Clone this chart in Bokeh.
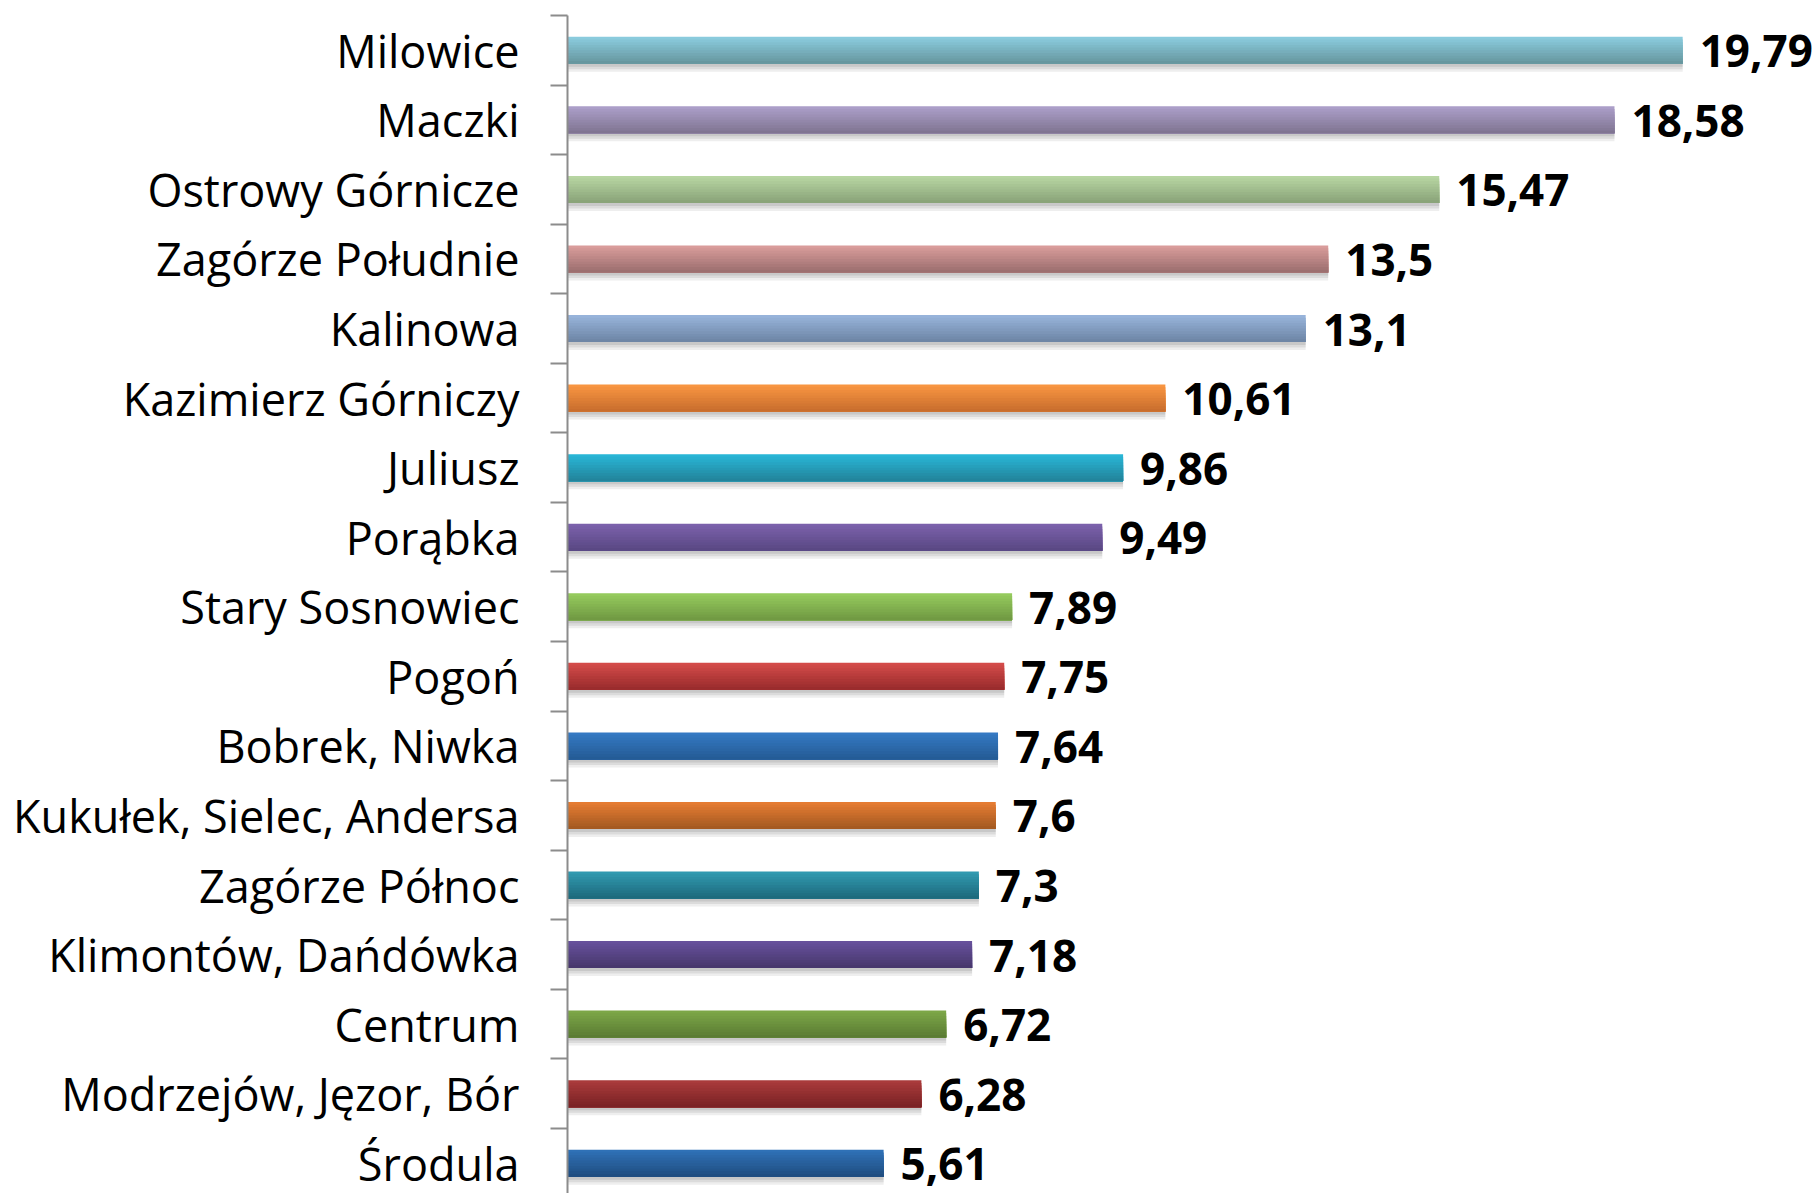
import numpy as np
from bokeh.plotting import figure
from bokeh.models import ColumnDataSource, Range1d, FixedTicker
from bokeh.transform import dodge
from bokeh.core.properties import value
from bokeh.embed import file_html
from bokeh.resources import INLINE

districts = ["Milowice", "Maczki", "Ostrowy Górnicze", "Zagórze Południe", "Kalinowa",
             "Kazimierz Górniczy", "Juliusz", "Porąbka", "Stary Sosnowiec", "Pogoń",
             "Bobrek, Niwka", "Kukułek, Sielec, Andersa", "Zagórze Północ",
             "Klimontów, Dańdówka", "Centrum", "Modrzejów, Jęzor, Bór", "Środula"]
values = [19.79, 18.58, 15.47, 13.5, 13.1, 10.61, 9.86, 9.49, 7.89, 7.75, 7.64,
          7.6, 7.3, 7.18, 6.72, 6.28, 5.61]
value_labels = ["19,79", "18,58", "15,47", "13,5", "13,1", "10,61", "9,86", "9,49",
                "7,89", "7,75", "7,64", "7,6", "7,3", "7,18", "6,72", "6,28", "5,61"]
top_colors = ["#8ACBDD", "#AB9EC8", "#B7D5A2", "#D99C9B", "#97B3DA", "#F89541",
              "#29B6D6", "#7B61AB", "#95CA5D", "#D34B49", "#3579C3", "#E57C33",
              "#3099B0", "#67519B", "#7CA647", "#A93B3B", "#2F71B6"]
bottom_colors = ["#67979F", "#807592", "#8AA479", "#9C6F6F", "#6E86A6", "#C96E2E",
                 "#22849C", "#5A4884", "#719A43", "#9A2C2D", "#245C96", "#A55A21",
                 "#1E6B7D", "#47376D", "#5B7C34", "#7B2225", "#204E81"]

n = len(districts)
ypos = list(range(n))

def hex2rgb(h):
    h = h.lstrip("#")
    return np.array([int(h[i:i + 2], 16) for i in (0, 2, 4)], dtype=float)

def rgb2hex(c):
    return "#%02x%02x%02x" % tuple(int(round(v)) for v in c)

NSTRIP = 10
data = dict(y=ypos, v=values, lbl=value_labels, name=districts)
for k in range(NSTRIP):
    t = k / (NSTRIP - 1)
    data["c%d" % k] = [rgb2hex(hex2rgb(a) * (1 - t) + hex2rgb(b) * t)
                       for a, b in zip(top_colors, bottom_colors)]
src = ColumnDataSource(data)

W, HT = 1818, 1193
LEFT, TOP = 567, 15
BAND_PX = 69.56
PX_PER_UNIT = 56.35
PX = 1.0 / BAND_PX
H = 27 * PX

p = figure(width=W, height=HT, output_backend="svg", toolbar_location=None,
           x_range=Range1d(0, (W - LEFT) / PX_PER_UNIT),
           y_range=Range1d(-0.5 + (HT - TOP) / BAND_PX, -0.5),
           min_border_left=LEFT, min_border_top=TOP, min_border_bottom=0, min_border_right=0)
p.outline_line_color = None
p.xgrid.visible = False
p.ygrid.visible = False
p.xaxis.visible = False
p.background_fill_color = "white"
p.border_fill_color = "white"

# soft shadow below bars
for off, hh, a in [(3, 10, 0.10), (2, 7, 0.12), (1, 4, 0.14)]:
    p.hbar(y=dodge("y", H / 2 + off * PX, range=p.y_range), left=0,
           right="v", height=hh * PX, source=src,
           fill_color="#555555", fill_alpha=a, line_color=None)

# gradient bar: each strip reaches to the bar bottom, later strips overwrite
for k in range(NSTRIP):
    top = -H / 2 + k * H / NSTRIP
    p.hbar(y=dodge("y", (top + H / 2) / 2, range=p.y_range), left=0, right="v",
           height=H / 2 - top, source=src,
           fill_color="c%d" % k, line_color=None)

p.text(x="v", y="y", text="lbl", source=src, x_offset=17, y_offset=1,
       text_baseline="middle", text_align="left", text_line_height=1.0,
       text_font=value("Open Sans"), text_font_style="bold",
       text_font_size="44px", text_color="black")

ax = p.yaxis[0]
ax.ticker = FixedTicker(ticks=ypos, minor_ticks=[i - 0.5 for i in range(n + 1)])
ax.major_label_overrides = {i: d for i, d in enumerate(districts)}
ax.major_tick_out = 0
ax.major_tick_in = 0
ax.minor_tick_out = 17
ax.minor_tick_in = 0
ax.minor_tick_line_color = "#8C8C8C"
ax.minor_tick_line_width = 2
ax.axis_line_color = "#8C8C8C"
ax.axis_line_width = 2
ax.major_label_standoff = 31
ax.major_label_text_font = "Open Sans"
ax.major_label_text_font_size = "45px"
ax.major_label_text_color = "black"

open("out.html", "w").write(file_html(p, INLINE))
